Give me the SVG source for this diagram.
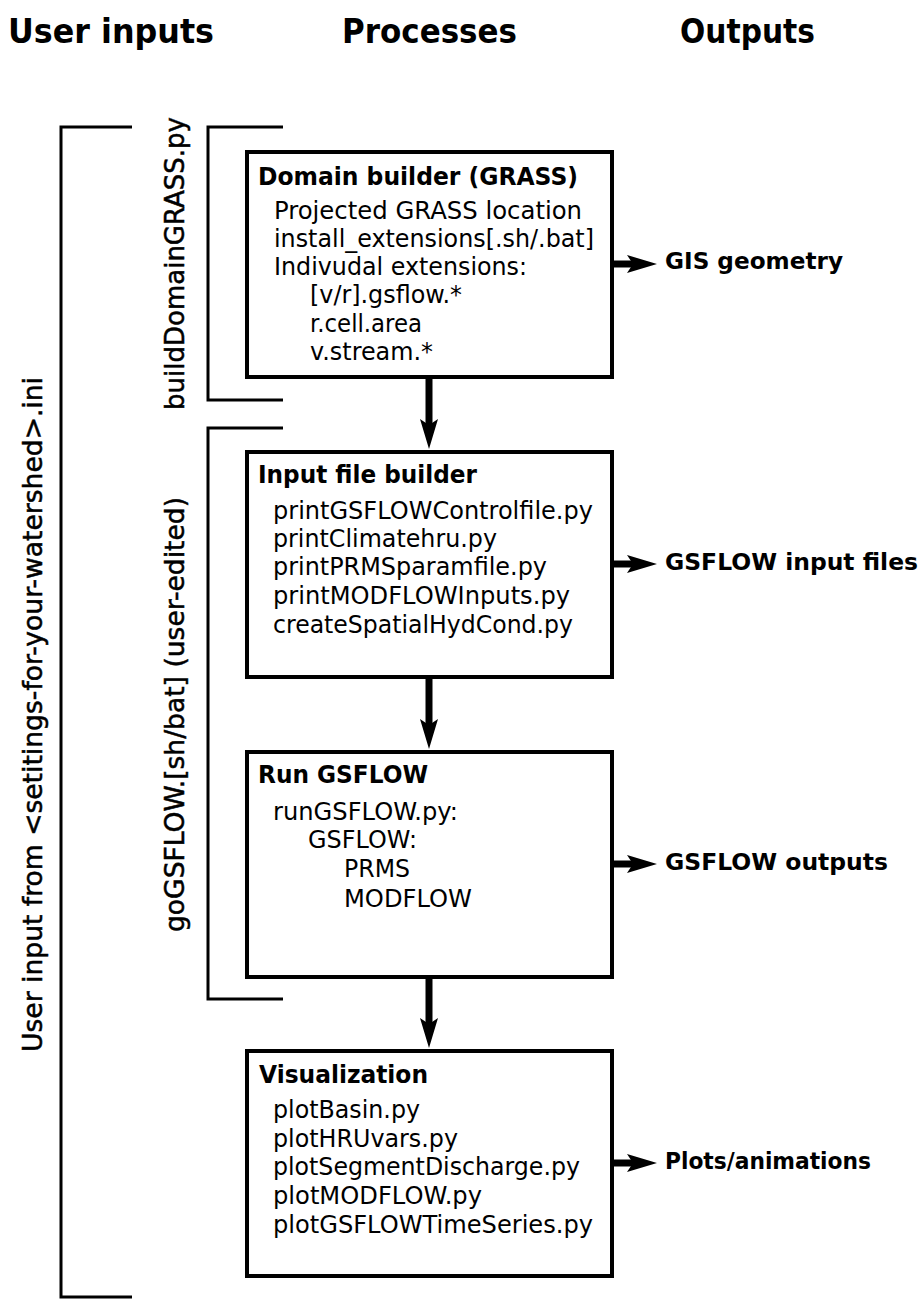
<svg xmlns="http://www.w3.org/2000/svg" width="922" height="1300" viewBox="0 0 922 1300">
<style>
  text { font-family: "DejaVu Sans", "Liberation Sans", sans-serif; fill: #000; }
  .hdr { font-size: 33px; font-weight: bold; }
  .title { font-size: 25px; font-weight: bold; }
  .body { font-size: 24px; }
  .out { font-size: 23.5px; font-weight: bold; }
  .vert { font-size: 26px; stroke: #000; stroke-width: 0.5px; }
  .box { fill: #fff; stroke: #000; stroke-width: 4; }
  .brk { fill: none; stroke: #000; stroke-width: 3; }
  .arr { stroke: #000; stroke-width: 7; fill: none; marker-end: url(#head); }
</style>
<defs>
  <marker id="head" viewBox="0 0 30 18" markerWidth="30" markerHeight="18" markerUnits="userSpaceOnUse" refX="6" refY="9" orient="auto">
    <path d="M0,0 L30,9 L0,18 L6,9 Z" fill="#000"/>
  </marker>
</defs>
<rect width="922" height="1300" fill="#fff"/>

<g id="headers">
  <text class="hdr" x="8" y="43" textLength="206" lengthAdjust="spacingAndGlyphs">User inputs</text>
  <text class="hdr" x="342" y="43" textLength="175" lengthAdjust="spacingAndGlyphs">Processes</text>
  <text class="hdr" x="680" y="43" textLength="135" lengthAdjust="spacingAndGlyphs">Outputs</text>
</g>

<g id="bracket-user-input">
  <path class="brk" d="M132,127 H61 V1297 H132"/>
  <text class="vert" transform="translate(42,1052) rotate(-90)" textLength="675" lengthAdjust="spacingAndGlyphs">User input from &lt;setitings-for-your-watershed&gt;.ini</text>
</g>
<g id="bracket-build-domain">
  <path class="brk" d="M283,127 H208 V400 H283"/>
  <text class="vert" transform="translate(184,410) rotate(-90)" textLength="293" lengthAdjust="spacingAndGlyphs">buildDomainGRASS.py</text>
</g>
<g id="bracket-go-gsflow">
  <path class="brk" d="M283,428 H208 V999 H283"/>
  <text class="vert" transform="translate(184,932) rotate(-90)" textLength="435" lengthAdjust="spacingAndGlyphs">goGSFLOW.[sh/bat] (user-edited)</text>
</g>

<g id="connectors">
  <line class="arr" x1="429" y1="378" x2="429" y2="425"/>
  <line class="arr" x1="429" y1="678" x2="429" y2="725"/>
  <line class="arr" x1="429" y1="978" x2="429" y2="1024"/>
  <line class="arr" x1="613" y1="264" x2="633" y2="264"/>
  <line class="arr" x1="613" y1="564" x2="633" y2="564"/>
  <line class="arr" x1="613" y1="864" x2="633" y2="864"/>
  <line class="arr" x1="613" y1="1163" x2="633" y2="1163"/>
</g>

<g id="domain-builder">
  <rect class="box" x="247" y="152" width="365" height="225"/>
  <text class="title" x="258" y="185" textLength="320" lengthAdjust="spacingAndGlyphs">Domain builder (GRASS)</text>
  <text class="body" x="274" y="219" textLength="308" lengthAdjust="spacingAndGlyphs">Projected GRASS location</text>
  <text class="body" x="274" y="247" textLength="320" lengthAdjust="spacingAndGlyphs">install_extensions[.sh/.bat]</text>
  <text class="body" x="274" y="275" textLength="253" lengthAdjust="spacingAndGlyphs">Indivudal extensions:</text>
  <text class="body" x="310" y="303" textLength="152" lengthAdjust="spacingAndGlyphs">[v/r].gsflow.*</text>
  <text class="body" x="310" y="332" textLength="112" lengthAdjust="spacingAndGlyphs">r.cell.area</text>
  <text class="body" x="310" y="360" textLength="123" lengthAdjust="spacingAndGlyphs">v.stream.*</text>
</g>

<g id="input-file-builder">
  <rect class="box" x="247" y="452" width="365" height="225"/>
  <text class="title" x="258" y="483" textLength="219" lengthAdjust="spacingAndGlyphs">Input file builder</text>
  <text class="body" x="273" y="519" textLength="320" lengthAdjust="spacingAndGlyphs">printGSFLOWControlfile.py</text>
  <text class="body" x="273" y="547" textLength="224" lengthAdjust="spacingAndGlyphs">printClimatehru.py</text>
  <text class="body" x="273" y="575" textLength="274" lengthAdjust="spacingAndGlyphs">printPRMSparamfile.py</text>
  <text class="body" x="273" y="604" textLength="297" lengthAdjust="spacingAndGlyphs">printMODFLOWInputs.py</text>
  <text class="body" x="273" y="633" textLength="300" lengthAdjust="spacingAndGlyphs">createSpatialHydCond.py</text>
</g>

<g id="run-gsflow">
  <rect class="box" x="247" y="752" width="365" height="225"/>
  <text class="title" x="258" y="783" textLength="170" lengthAdjust="spacingAndGlyphs">Run GSFLOW</text>
  <text class="body" x="273" y="820" textLength="185" lengthAdjust="spacingAndGlyphs">runGSFLOW.py:</text>
  <text class="body" x="308" y="848" textLength="109" lengthAdjust="spacingAndGlyphs">GSFLOW:</text>
  <text class="body" x="344" y="877" textLength="66" lengthAdjust="spacingAndGlyphs">PRMS</text>
  <text class="body" x="344" y="907" textLength="128" lengthAdjust="spacingAndGlyphs">MODFLOW</text>
</g>

<g id="visualization">
  <rect class="box" x="247" y="1051" width="365" height="225"/>
  <text class="title" x="259" y="1083" textLength="169" lengthAdjust="spacingAndGlyphs">Visualization</text>
  <text class="body" x="273" y="1118" textLength="147" lengthAdjust="spacingAndGlyphs">plotBasin.py</text>
  <text class="body" x="273" y="1147" textLength="185" lengthAdjust="spacingAndGlyphs">plotHRUvars.py</text>
  <text class="body" x="273" y="1175" textLength="307" lengthAdjust="spacingAndGlyphs">plotSegmentDischarge.py</text>
  <text class="body" x="273" y="1204" textLength="209" lengthAdjust="spacingAndGlyphs">plotMODFLOW.py</text>
  <text class="body" x="273" y="1233" textLength="320" lengthAdjust="spacingAndGlyphs">plotGSFLOWTimeSeries.py</text>
</g>

<g id="outputs">
  <text id="out-gis" class="out" x="665" y="269" textLength="178" lengthAdjust="spacingAndGlyphs">GIS geometry</text>
  <text id="out-input" class="out" x="665" y="570" textLength="253" lengthAdjust="spacingAndGlyphs">GSFLOW input files</text>
  <text id="out-outputs" class="out" x="665" y="870" textLength="223" lengthAdjust="spacingAndGlyphs">GSFLOW outputs</text>
  <text id="out-plots" class="out" x="665" y="1169" textLength="206" lengthAdjust="spacingAndGlyphs">Plots/animations</text>
</g>
</svg>
